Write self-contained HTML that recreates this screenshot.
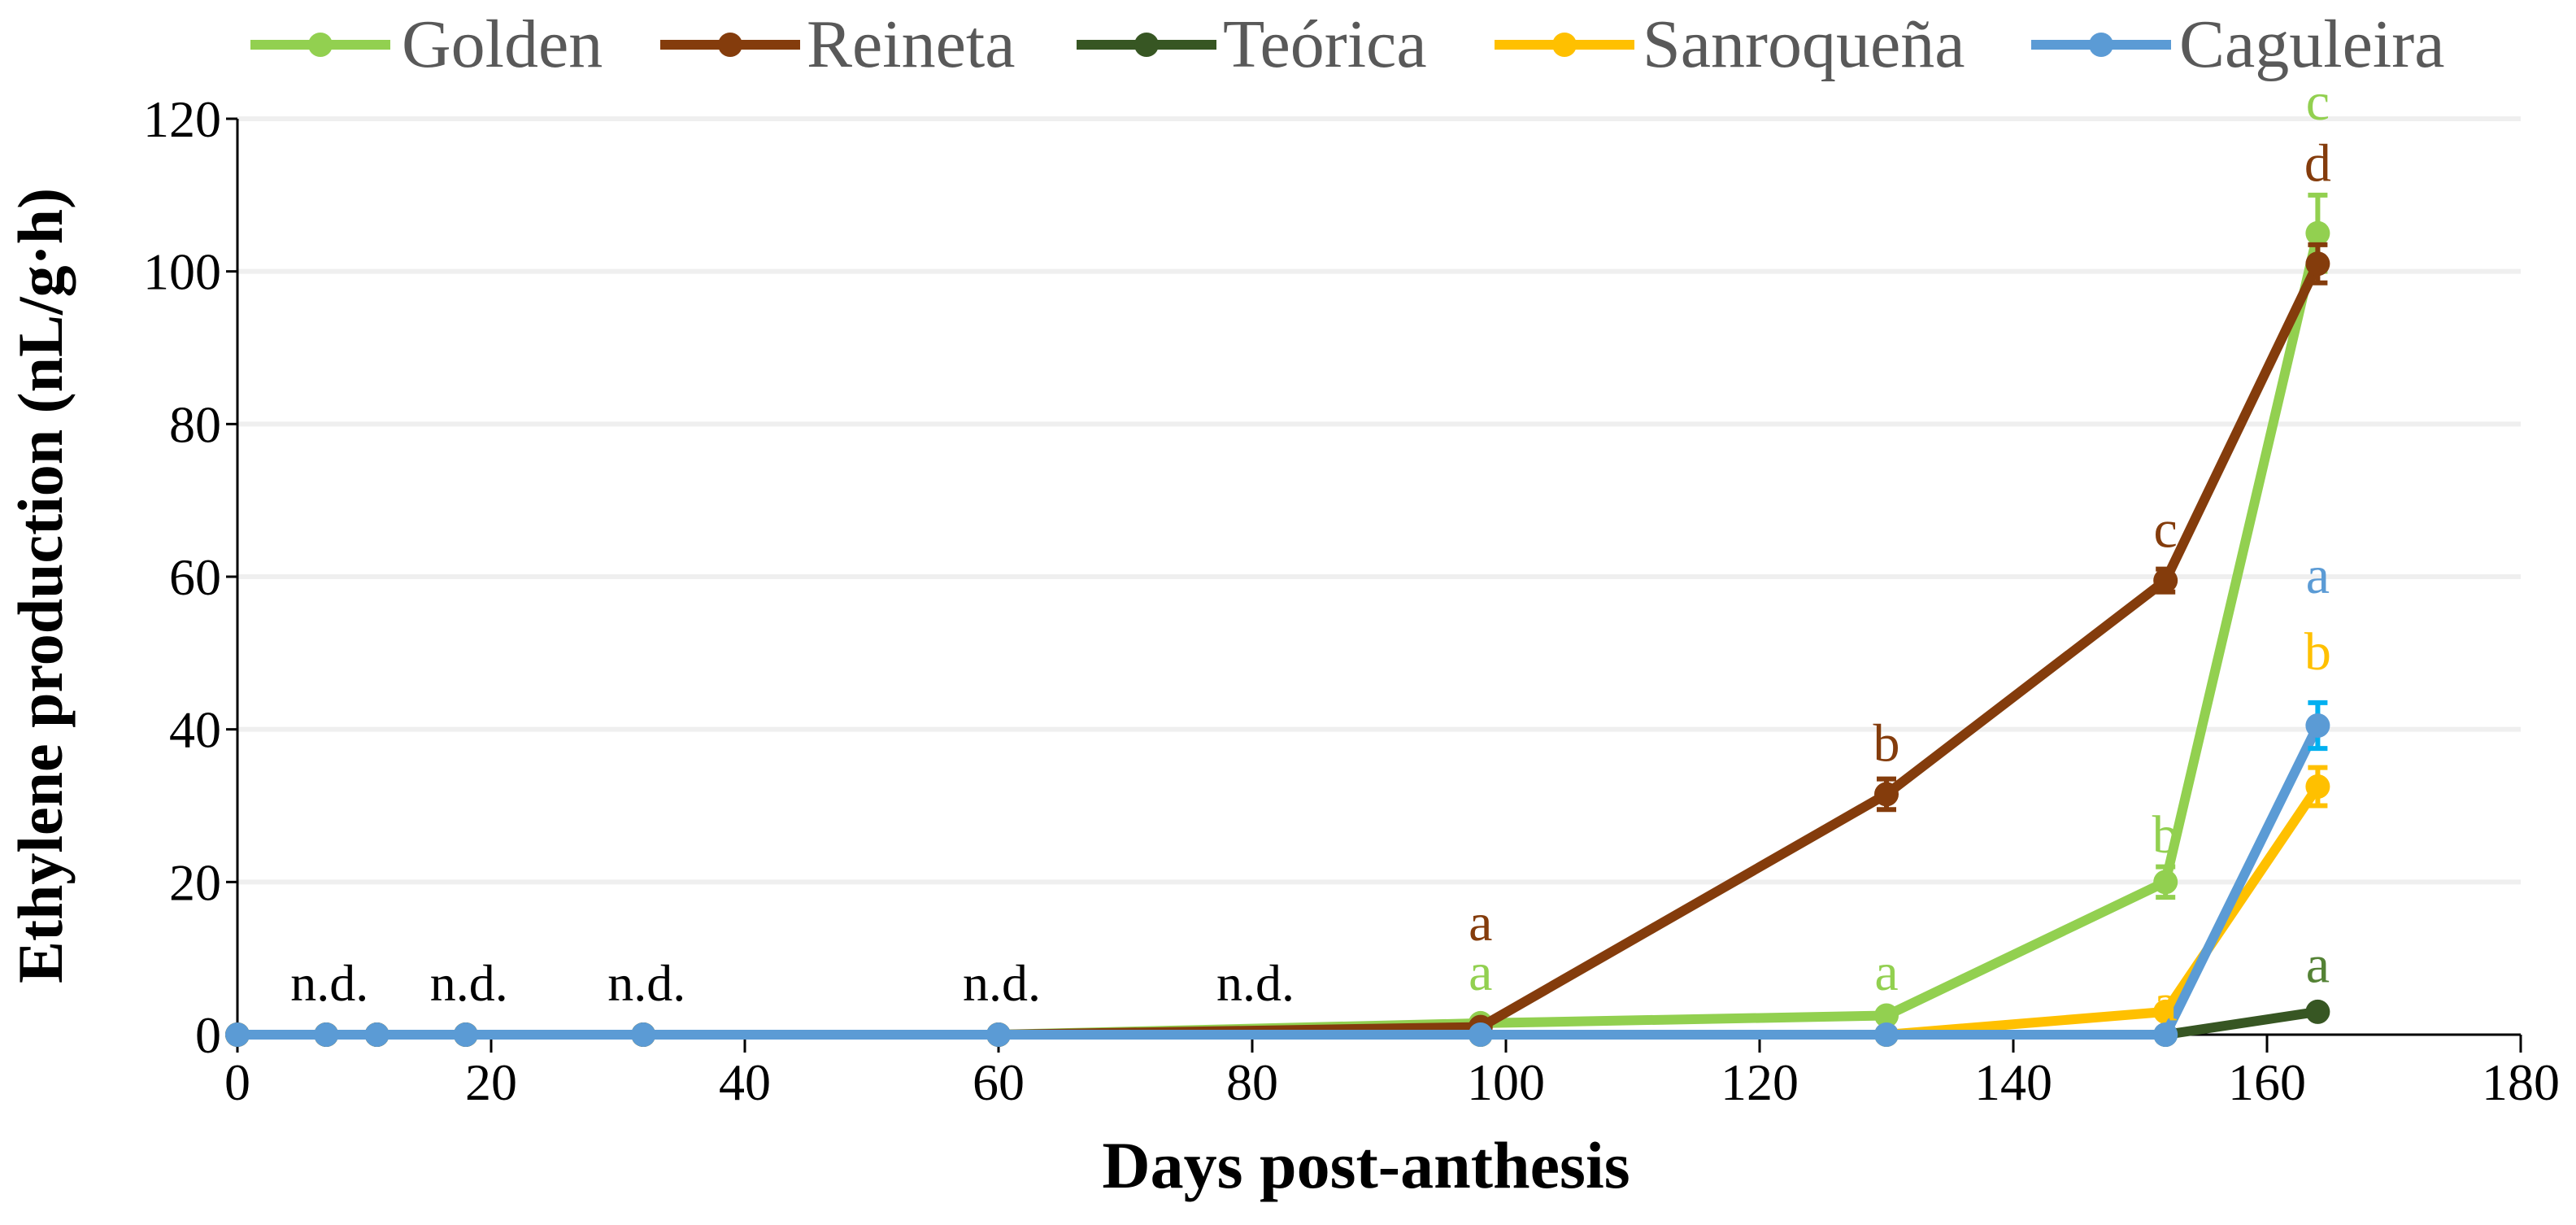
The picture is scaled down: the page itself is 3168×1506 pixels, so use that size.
<!DOCTYPE html>
<html><head><meta charset="utf-8"><style>
body{margin:0;background:#fff;}
svg{display:block;}
</style></head><body>
<svg id="chart" width="3168" height="1506" viewBox="0 0 1584 753" style="width:3168px;height:1506px"></svg>
<script>
const days = [0, 7, 11, 18, 32, 60, 98, 130, 152, 164];
const seriesNames = ["Golden", "Reineta", "Teórica", "Sanroqueña", "Caguleira"];
const golden = [0, 0, 0, 0, 0, 0, 1.5, 2.5, 20, 105];
const reineta = [0, 0, 0, 0, 0, 0, 1, 31.5, 59.5, 101];
const teorica = [0, 0, 0, 0, 0, 0, 0, 0, 0, 3];
const sanroquena = [0, 0, 0, 0, 0, 0, 0, 0, 3, 32.5];
const caguleira = [0, 0, 0, 0, 0, 0, 0, 0, 0, 40.5];
const goldenErr = [0, 0, 0, 0, 0, 0, 0, 0, 2, 5];
const reinetaErr = [0, 0, 0, 0, 0, 0, 0, 2, 1.5, 2.5];
const teoricaErr = [0, 0, 0, 0, 0, 0, 0, 0, 0, 0];
const sanroquenaErr = [0, 0, 0, 0, 0, 0, 0, 0, 0, 2.5];
const caguleiraErr = [0, 0, 0, 0, 0, 0, 0, 0, 0, 3];
const xTicks = [0, 20, 40, 60, 80, 100, 120, 140, 160, 180];
const yTicks = [0, 20, 40, 60, 80, 100, 120];
const ndDays = [7, 18, 32, 60, 80];
const letterDays = [98, 98, 130, 130, 152, 152, 152, 164, 164, 164, 164, 164];
const letterTexts = ["a", "a", "b", "a", "c", "b", "a", "c", "d", "a", "b", "a"];
const letterSeries = [1, 0, 1, 0, 1, 0, 3, 0, 1, 4, 3, 2];
const letterLevels = [14.5, 8, 38, 8, 66, 26, 4, 122, 114, 60, 50, 9];

const colors = ["#92d050", "#843c0c", "#375623", "#ffc000", "#5b9bd5"];
const errColors = ["#92d050", "#843c0c", "#375623", "#ffc000", "#00b0f0"];
const data = [golden, reineta, teorica, sanroquena, caguleira];
const errs = [goldenErr, reinetaErr, teoricaErr, sanroquenaErr, caguleiraErr];
const NS = "http://www.w3.org/2000/svg";
const svg = document.getElementById("chart");
const X = d => 146 + d * (1550 - 146) / 180;
const Y = v => 636 - v * (636 - 73) / 120;
function mk(tag, attrs, parent) {
  const e = document.createElementNS(NS, tag);
  for (const k in attrs) e.setAttribute(k, attrs[k]);
  (parent || svg).appendChild(e);
  return e;
}
yTicks.forEach(t => {
  if (t > 0) {
    const g = mk("line", {x1: 146, x2: 1550, y1: Y(t), y2: Y(t), stroke: "#efefef", "stroke-width": 3});
    
    
  }
  const tl = mk("text", {x: 136, y: Y(t) + 11, "text-anchor": "end", "font-family": "Liberation Serif, serif", "font-size": 32});
  tl.textContent = t;
  
  
  const tk = mk("line", {x1: 139, x2: 146, y1: Y(t), y2: Y(t), stroke: "#000", "stroke-width": 1.5});
  
  
});
xTicks.forEach(t => {
  const tl = mk("text", {x: X(t), y: 676, "text-anchor": "middle", "font-family": "Liberation Serif, serif", "font-size": 32});
  tl.textContent = t;
  
  
  const tk = mk("line", {x1: X(t), x2: X(t), y1: 636, y2: 647, stroke: "#000", "stroke-width": 1.5});
  
  
});
const ya = mk("line", {x1: 146, x2: 146, y1: 73, y2: 636, stroke: "#000", "stroke-width": 1.5});


const xa = mk("line", {x1: 146, x2: 1550, y1: 636, y2: 636, stroke: "#000", "stroke-width": 1.5});


const xt = mk("text", {x: 840, y: 730, "text-anchor": "middle", "font-family": "Liberation Serif, serif", "font-size": 41, "font-weight": "bold"});
xt.textContent = "Days post-anthesis";


const yt = mk("text", {x: 0, y: 0, transform: "translate(38,360) rotate(-90)", "text-anchor": "middle", "font-family": "Liberation Serif, serif", "font-size": 39, "font-weight": "bold"});
yt.textContent = "Ethylene production (nL/g·h)";


const order = [2, 3, 0, 1, 4];
order.forEach(s => {
  const pts = days.map((d, i) => X(d) + "," + Y(data[s][i])).join(" ");
  const pl = mk("polyline", {points: pts, fill: "none", stroke: colors[s], "stroke-width": 6, "stroke-linejoin": "round"});
  
  
  days.forEach((d, i) => {
    const e = errs[s][i];
    if (e > 0) {
      const x = X(d), y1 = Y(data[s][i] + e), y2 = Y(data[s][i] - e);
      const eb = mk("path", {d: `M${x},${y1}V${y2}M${x-6},${y1}H${x+6}M${x-6},${y2}H${x+6}`, stroke: errColors[s], "stroke-width": 3, fill: "none"});
      
      
    }
    const c = mk("circle", {cx: X(d), cy: Y(data[s][i]), r: 7.5, fill: colors[s]});
    
    
  });
});
ndDays.forEach(d => {
  const t = mk("text", {x: X(d) + 2, y: 615, "text-anchor": "middle", "font-family": "Liberation Serif, serif", "font-size": 32});
  t.textContent = "n.d.";
  
  
});
letterDays.forEach((d, i) => {
  const t = mk("text", {x: X(d), y: Y(letterLevels[i]) + 10, "text-anchor": "middle", "font-family": "Liberation Serif, serif", "font-size": 33, fill: letterSeries[i] === 4 ? "#5b9bd5" : (letterSeries[i] === 2 ? "#548235" : colors[letterSeries[i]])});
  t.textContent = letterTexts[i];
  
  
});
const legX = [154, 406, 662, 919, 1249];
const legTextX = [247, 496, 752, 1010, 1340];
seriesNames.forEach((n, s) => {
  const g = mk("g", {});
  
  
  mk("line", {x1: legX[s], x2: legX[s] + 86, y1: 27.5, y2: 27.5, stroke: colors[s], "stroke-width": 6}, g);
  mk("circle", {cx: legX[s] + 43, cy: 27.5, r: 7.5, fill: colors[s]}, g);
  const t = mk("text", {x: legTextX[s], y: 41, "font-family": "Liberation Serif, serif", "font-size": 42, fill: "#595959"}, g);
  t.textContent = n;
});
</script>
</body></html>
